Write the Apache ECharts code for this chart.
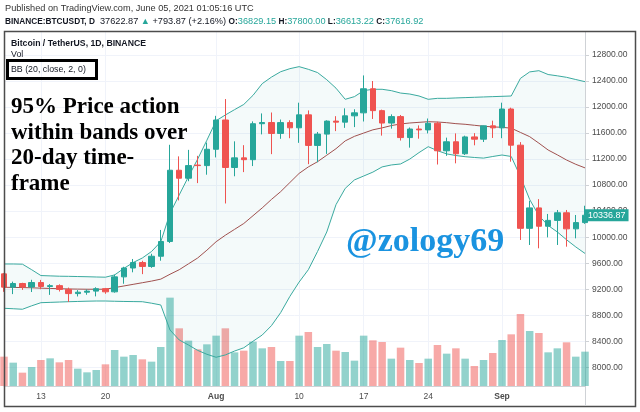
<!DOCTYPE html>
<html>
<head>
<meta charset="utf-8">
<title>BTCUSDT 1D - Bollinger Bands</title>
<script src="https://cdn.jsdelivr.net/npm/echarts@6/dist/echarts.min.js"></script>
<style>
  html, body { margin: 0; padding: 0; background: #fff; }
  #chart { width: 640px; height: 412px; }
</style>
</head>
<body>
<div id="chart"></div>
<script>
// daily bars, 2020-07-09 .. 2020-09-10
const dates = [
  '07-09', '07-10', '07-11', '07-12', '07-13', '07-14', '07-15', '07-16', '07-17', '07-18',
  '07-19', '07-20', '07-21', '07-22', '07-23', '07-24', '07-25', '07-26', '07-27', '07-28',
  '07-29', '07-30', '07-31', '08-01', '08-02', '08-03', '08-04', '08-05', '08-06', '08-07',
  '08-08', '08-09', '08-10', '08-11', '08-12', '08-13', '08-14', '08-15', '08-16', '08-17',
  '08-18', '08-19', '08-20', '08-21', '08-22', '08-23', '08-24', '08-25', '08-26', '08-27',
  '08-28', '08-29', '08-30', '08-31', '09-01', '09-02', '09-03', '09-04', '09-05', '09-06',
  '09-07', '09-08', '09-09', '09-10'
]
const opens = [
  9436, 9232, 9288, 9234, 9303, 9242, 9255, 9197, 9133, 9154,
  9171, 9208, 9160, 9390, 9526, 9610, 9550, 9707, 9934, 11029,
  10906, 11108, 11100, 11351, 11801, 11071, 11219, 11191, 11744, 11762,
  11594, 11761, 11681, 11880, 11410, 11584, 11784, 11768, 11865, 11911,
  12281, 11945, 11754, 11853, 11531, 11662, 11649, 11751, 11328, 11466,
  11282, 11541, 11506, 11711, 11680, 11970, 11414, 10136, 10450, 10168,
  10258, 10375, 10128, 10224
]
const closes = [
  9232, 9288, 9234, 9303, 9242, 9255, 9197, 9133, 9154, 9171,
  9208, 9160, 9390, 9526, 9610, 9550, 9707, 9934, 11029, 10906,
  11100, 11100, 11351, 11801, 11071, 11219, 11191, 11744, 11762, 11594,
  11761, 11681, 11880, 11410, 11584, 11784, 11768, 11865, 11911, 12281,
  11945, 11754, 11853, 11531, 11662, 11649, 11751, 11328, 11466, 11282,
  11541, 11506, 11711, 11680, 11970, 11414, 10136, 10450, 10168, 10258,
  10375, 10128, 10224, 10337
]
const lows = [
  9160, 9125, 9190, 9157, 9200, 9113, 9165, 9004, 9089, 9115,
  9090, 9130, 9147, 9284, 9460, 9432, 9529, 9638, 9910, 10565,
  10860, 10831, 10960, 11226, 10518, 10936, 11000, 11093, 11580, 11276,
  11512, 11521, 11450, 11122, 11152, 11280, 11630, 11680, 11692, 11778,
  11817, 11561, 11668, 11485, 11376, 11514, 11595, 11117, 11250, 11135,
  11263, 11412, 11463, 11525, 11521, 11160, 9957, 9880, 9829, 9997,
  9880, 9854, 9982, 10205
]
const highs = [
  9450, 9317, 9299, 9345, 9343, 9279, 9275, 9225, 9186, 9196,
  9230, 9220, 9425, 9545, 9665, 9637, 9745, 10111, 11420, 11242,
  11342, 11250, 11454, 11865, 12123, 11473, 11414, 11780, 11902, 11916,
  11808, 11797, 12067, 11948, 11617, 11796, 11860, 11980, 11966, 12486,
  12400, 11960, 11888, 11878, 11686, 11718, 11824, 11775, 11530, 11595,
  11560, 11599, 11715, 11791, 12067, 11990, 11461, 10560, 10585, 10357,
  10418, 10418, 10341, 10483
]
// volume, thousand BTC
const vols = [
  44, 35, 20, 28.5, 39, 41.5, 35.5, 39, 26, 20.5,
  24, 32.5, 54, 44, 46.5, 40, 36.5, 58.5, 132.5, 86.5,
  68, 55, 62.5, 75.5, 86.5, 50.5, 53, 66.5, 56.5, 58.5,
  37.5, 37.5, 75.5, 81, 58.5, 63, 53, 51, 38, 75.5,
  68.5, 66, 41, 57.5, 39, 34.5, 41, 61.5, 48.5, 56.5,
  41, 30, 39, 49.5, 69, 77.5, 108, 82.5, 79.5, 50.5,
  56.5, 65.5, 44, 51.5
]
// Bollinger bands
const bbUpper = [
  9588, 9588, 9585, 9500, 9410, 9405, 9400, 9398, 9395, 9392,
  9388, 9385, 9420, 9520, 9610, 9680, 9780, 9930, 10367, 10650,
  10930, 11200, 11490, 11790, 11878, 11960, 12040, 12180, 12360, 12460,
  12543, 12590, 12621, 12580, 12530, 12420, 12290, 12119, 12160, 12252,
  12273, 12273, 12252, 12215, 12200, 12170, 12119, 12134, 12134, 12140,
  12145, 12150, 12155, 12160, 12165, 12170, 12441, 12540, 12559, 12500,
  12480, 12457, 12423, 12390
]
const bbBasis = [
  9230, 9228, 9225, 9222, 9216, 9212, 9208, 9204, 9202, 9200,
  9200, 9200, 9225, 9250, 9275, 9300, 9325, 9355, 9430, 9500,
  9590, 9680, 9800, 9930, 10030, 10120, 10210, 10330, 10450, 10580,
  10700, 10840, 10980, 11080, 11160, 11260, 11360, 11480, 11550, 11600,
  11650, 11680, 11715, 11740, 11755, 11765, 11775, 11770, 11760, 11745,
  11735, 11720, 11705, 11695, 11689, 11675, 11610, 11545, 11445, 11340,
  11265, 11186, 11120, 11065
]
const bbLower = [
  8907, 8900, 8892, 8945, 8993, 8998, 9003, 9008, 9012, 9016,
  9019, 9019, 9015, 9012, 9010, 9008, 8985, 8958, 8573, 8420,
  8343, 8260, 8200, 8154, 8190, 8250, 8300, 8400, 8496, 8640,
  8840, 9090, 9310, 9500, 9780, 10080, 10500, 10750, 10880, 10940,
  11000, 11080, 11110, 11125, 11200, 11300, 11391, 11330, 11280, 11255,
  11237, 11225, 11215, 11240, 11263, 11240, 10930, 10580, 10330, 10180,
  10080, 9960, 9850, 9750
]
const labelDates = ['07-13', '07-20', '08-01', '08-10', '08-17', '08-24', '09-01']
const labelTexts = ['13', '20', 'Aug', '10', '17', '24', 'Sep']
const lastPrice = 10336.87

const UP = '#26a69a'
const DOWN = '#ef5350'
const SANS = 'Liberation Sans, Arial, sans-serif'
const SERIF = 'Liberation Serif, Times New Roman, serif'

const chartInstance = echarts.init(document.getElementById('chart'))

const candleData = dates.map((d, i) => [opens[i], closes[i], lows[i], highs[i]])
const volData = vols.map((v, i) => ({
  value: v,
  itemStyle: { color: closes[i] >= opens[i] ? 'rgba(38,166,154,0.5)' : 'rgba(239,83,80,0.5)' }
}))
// band height on top of the lower band, for the shaded area
const bbSpread = bbUpper.map((u, i) => u - bbLower[i])
const isLabel = (i) => labelDates.indexOf(dates[i]) >= 0

const option = {
  animation: false,
  backgroundColor: '#fff',
  grid: [
    // price pane: 12800 .. 8000
    { left: 4, right: 55, top: 55, height: 312.3, outerBoundsMode: 'none' },
    // full pane: volume + date axis
    { left: 4, right: 55, top: 32, height: 354, outerBoundsMode: 'none' }
  ],
  xAxis: [
    { type: 'category', gridIndex: 0, data: dates, boundaryGap: false, show: false },
    {
      type: 'category',
      gridIndex: 1,
      data: dates,
      boundaryGap: false,
      axisLine: { lineStyle: { color: '#cfd2d6' } },
      axisTick: { show: false },
      axisLabel: {
        interval: (i) => isLabel(i),
        fontFamily: SANS,
        fontSize: 8.5,
        color: '#4c4c4c',
        margin: 6,
        formatter: (v) => {
          const t = labelTexts[labelDates.indexOf(v)]
          return isNaN(+t) ? '{m|' + t + '}' : t
        },
        rich: { m: { fontFamily: SANS, fontSize: 8.5, fontWeight: 'bold', color: '#4c4c4c' } }
      },
      splitLine: { show: true, interval: (i) => isLabel(i), lineStyle: { color: '#f0f3fa' } }
    }
  ],
  yAxis: [
    {
      type: 'value',
      gridIndex: 0,
      position: 'right',
      min: 8000,
      max: 12800,
      interval: 400,
      axisLine: { show: false },
      axisTick: { show: true, length: 4, lineStyle: { color: '#cfd2d6' } },
      axisLabel: { formatter: (v) => v.toFixed(2), fontFamily: SANS, fontSize: 8.5, color: '#4c4c4c', margin: 7 },
      splitLine: { lineStyle: { color: '#f0f3fa' } }
    },
    {
      type: 'value',
      gridIndex: 1,
      position: 'right',
      min: 0,
      max: 531,
      axisLine: { show: true, lineStyle: { color: '#cfd2d6' } },
      axisTick: { show: false },
      axisLabel: { show: false },
      splitLine: { show: false }
    }
  ],
  series: [
    { name: 'Vol', type: 'bar', xAxisIndex: 1, yAxisIndex: 1, data: volData, barWidth: 7.5, silent: true },
    {
      name: 'bbBase', type: 'line', xAxisIndex: 0, yAxisIndex: 0, data: bbLower, stack: 'bb',
      symbol: 'none', lineStyle: { opacity: 0 }, silent: true
    },
    {
      name: 'bbFill', type: 'line', xAxisIndex: 0, yAxisIndex: 0, data: bbSpread, stack: 'bb',
      symbol: 'none', lineStyle: { opacity: 0 }, areaStyle: { color: 'rgba(38,166,154,0.07)' }, silent: true
    },
    {
      name: 'Upper', type: 'line', xAxisIndex: 0, yAxisIndex: 0, data: bbUpper,
      symbol: 'none', lineStyle: { color: '#3aaa9f', width: 1 }, silent: true
    },
    {
      name: 'Lower', type: 'line', xAxisIndex: 0, yAxisIndex: 0, data: bbLower,
      symbol: 'none', lineStyle: { color: '#3aaa9f', width: 1 }, silent: true
    },
    {
      name: 'Basis', type: 'line', xAxisIndex: 0, yAxisIndex: 0, data: bbBasis,
      symbol: 'none', lineStyle: { color: '#a0514f', width: 1 }, silent: true
    },
    {
      name: 'BTCUSDT',
      type: 'candlestick',
      xAxisIndex: 0,
      yAxisIndex: 0,
      data: candleData,
      barWidth: 6,
      z: 5,
      itemStyle: { color: UP, color0: DOWN, borderColor: UP, borderColor0: DOWN, borderWidth: 1 },
      markLine: {
        symbol: 'none',
        silent: true,
        z: 20,
        lineStyle: { color: 'rgba(0,0,0,0)', width: 0, type: 'solid' },
        label: {
          show: true,
          position: 'end',
          distance: 0,
          formatter: lastPrice.toFixed(2),
          backgroundColor: UP,
          color: '#fff',
          fontFamily: SANS,
          fontSize: 9,
          padding: [2, 3, 1, 3]
        },
        data: [{ yAxis: lastPrice }]
      }
    }
  ],
  graphic: [
    {
      type: 'text', x: 5, y: 8.5, silent: true, z: 100,
      style: {
        text: 'Published on TradingView.com, June 05, 2021 01:05:16 UTC',
        fontFamily: SANS, fontSize: 9.2, fill: '#333',
        textVerticalAlign: 'middle', verticalAlign: 'middle'
      }
    },
    {
      type: 'text', x: 5, y: 21.5, silent: true, z: 100,
      style: {
        text: '{b|BINANCE:BTCUSDT, D}{n|  37622.87 }{g|▲}{n| +793.87 (+2.16%) }{b|O:}{g|36829.15}{b| H:}{g|37800.00}{b| L:}{g|36613.22}{b| C:}{g|37616.92}',
        textVerticalAlign: 'middle', verticalAlign: 'middle',
        rich: {
          b: { fontFamily: SANS, fontSize: 8.3, fontWeight: 'bold', fill: '#131722', color: '#131722' },
          n: { fontFamily: SANS, fontSize: 9.2, fill: '#131722', color: '#131722' },
          g: { fontFamily: SANS, fontSize: 9.2, fill: UP, color: UP }
        }
      }
    },
    {
      type: 'rect', silent: true, z: 100,
      shape: { x: 4.5, y: 31.5, width: 631, height: 375 },
      style: { fill: 'none', stroke: '#4d4d4d', lineWidth: 1.5 }
    },
    {
      type: 'line', silent: true, z: 100,
      shape: { x1: 585.5, y1: 386, x2: 585.5, y2: 406 },
      style: { stroke: '#cfd2d6', lineWidth: 1 }
    },
    {
      type: 'text', x: 11, y: 43.5, silent: true, z: 100,
      style: {
        text: 'Bitcoin / TetherUS, 1D, BINANCE',
        fontFamily: SANS, fontSize: 8.7, fontWeight: 'bold', fill: '#131722',
        textVerticalAlign: 'middle', verticalAlign: 'middle'
      }
    },
    {
      type: 'text', x: 11, y: 54.8, silent: true, z: 100,
      style: {
        text: 'Vol', fontFamily: SANS, fontSize: 8.8, fill: '#131722',
        textVerticalAlign: 'middle', verticalAlign: 'middle'
      }
    },
    {
      type: 'rect', silent: true, z: 100,
      shape: { x: 7.5, y: 60.5, width: 89, height: 18 },
      style: { fill: 'none', stroke: '#000', lineWidth: 3 }
    },
    {
      type: 'text', x: 11, y: 69.5, silent: true, z: 100,
      style: {
        text: 'BB (20, close, 2, 0)', fontFamily: SANS, fontSize: 8.8, fill: '#131722',
        textVerticalAlign: 'middle', verticalAlign: 'middle'
      }
    },
    {
      type: 'text', x: 11, y: 94.5, silent: true, z: 100,
      style: {
        text: '95% Price action\nwithin bands over\n20-day time-\nframe',
        fontFamily: SERIF, fontSize: 23, fontWeight: 'bold', fill: '#000', lineHeight: 25.5,
        textVerticalAlign: 'top', verticalAlign: 'top'
      }
    },
    {
      type: 'text', x: 346, y: 242, silent: true, z: 100,
      style: {
        text: '@zology69', fontFamily: SERIF, fontSize: 34, fontWeight: 'bold', fill: '#1a93e0',
        textVerticalAlign: 'middle', verticalAlign: 'middle'
      }
    }
  ]
}

chartInstance.setOption(option)
</script>
</body>
</html>
